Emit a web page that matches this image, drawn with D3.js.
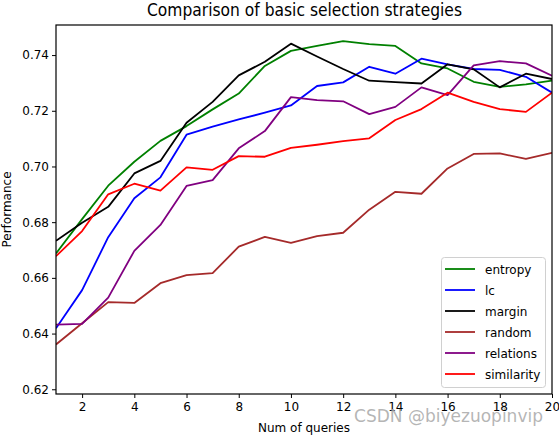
<!DOCTYPE html>
<html><head><meta charset="utf-8">
<script src="https://cdn.jsdelivr.net/npm/d3@7"></script>
<style>body{margin:0;background:#fff}svg{display:block}text{font-family:"DejaVu Sans",sans-serif}</style>
</head><body><svg id="c" width="559" height="437"></svg>
<script>
const queries = d3.range(1, 21);
const entropy    = [0.6688,0.6811,0.6931,0.7017,0.7092,0.7145,0.7205,0.7262,0.7361,0.7415,0.7433,0.7450,0.7439,0.7433,0.7370,0.7352,0.7304,0.7286,0.7295,0.7308];
const lc         = [0.6419,0.6556,0.6746,0.6886,0.6961,0.7114,0.7143,0.7169,0.7193,0.7219,0.7289,0.7302,0.7358,0.7333,0.7387,0.7367,0.7350,0.7347,0.7322,0.7265];
const margin     = [0.6733,0.6798,0.6855,0.6975,0.7020,0.7157,0.7232,0.7327,0.7376,0.7441,0.7395,0.7350,0.7308,0.7303,0.7298,0.7367,0.7349,0.7284,0.7333,0.7314];
const random     = [0.6361,0.6437,0.6513,0.6510,0.6581,0.6610,0.6617,0.6712,0.6747,0.6726,0.6750,0.6762,0.6845,0.6909,0.6902,0.6993,0.7045,0.7047,0.7027,0.7049];
const relations  = [0.6432,0.6435,0.6529,0.6697,0.6790,0.6930,0.6951,0.7065,0.7127,0.7249,0.7238,0.7234,0.7188,0.7214,0.7284,0.7256,0.7363,0.7378,0.7370,0.7326];
const similarity = [0.6678,0.6768,0.6900,0.6938,0.6913,0.6997,0.6988,0.7037,0.7035,0.7067,0.7078,0.7091,0.7101,0.7167,0.7206,0.7265,0.7232,0.7206,0.7196,0.7265];
const seriesNames = ["entropy","lc","margin","random","relations","similarity"];
const seriesColors = ["#008000","#0000ff","#000000","#a52a2a","#800080","#ff0000"];
const seriesData = [entropy, lc, margin, random, relations, similarity];
const xTicks = [2,4,6,8,10,12,14,16,18,20];
const yTicks = [0.62,0.64,0.66,0.68,0.70,0.72,0.74];

const L=56, R=552, T=25, B=394;
const svg = d3.select("#c");
const x = d3.scaleLinear().domain([1,20]).range([L,R]);
const y = d3.scaleLinear().domain([0.6183,0.7508]).range([B,T]);

const xa = svg.append("g").attr("transform",`translate(0,${B})`)
  .call(d3.axisBottom(x).tickValues(xTicks).tickSize(4).tickPadding(4).tickFormat(d3.format("d")));
const ya = svg.append("g").attr("transform",`translate(${L},0)`)
  .call(d3.axisLeft(y).tickValues(yTicks).tickSize(4).tickPadding(3).tickFormat(d3.format(".2f")));
[xa,ya].forEach(a=>{a.select(".domain").remove();a.selectAll("text").attr("font-size",12).attr("fill","#000").style("font-family","DejaVu Sans");a.selectAll("line").attr("stroke","#000");});

const line = d3.line().x((d,i)=>x(queries[i])).y(d=>y(d));
svg.append("clipPath").attr("id","cl").append("rect").attr("x",L).attr("y",T).attr("width",R-L).attr("height",B-T);
seriesData.forEach((s,k)=>{
  svg.append("path").datum(s).attr("d",line).attr("fill","none")
    .attr("stroke",seriesColors[k]).attr("stroke-width",1.8).attr("stroke-linejoin","round").attr("clip-path","url(#cl)");
});
svg.append("rect").attr("x",L).attr("y",T).attr("width",R-L).attr("height",B-T)
  .attr("fill","none").attr("stroke","#000").attr("stroke-width",1.2);

// legend
const lg = svg.append("g");
lg.append("rect").attr("x",441.5).attr("y",257.5).attr("width",104).attr("height",130).attr("rx",3)
  .attr("fill","#fff").attr("fill-opacity",0.8).attr("stroke","#d0d0d0");
seriesNames.forEach((n,k)=>{
  const yy = 269 + k*21;
  lg.append("line").attr("x1",445).attr("x2",475).attr("y1",yy).attr("y2",yy).attr("stroke",seriesColors[k]).attr("stroke-width",1.8);
  lg.append("text").attr("x",485).attr("y",yy+4.5).attr("font-size",12).text(n);
});

svg.append("text").attr("x",147).attr("y",16).attr("font-size",18)
  .attr("textLength",315).attr("lengthAdjust","spacingAndGlyphs").text("Comparison of basic selection strategies");
svg.append("text").attr("x",(L+R)/2).attr("y",432).attr("text-anchor","middle").attr("font-size",12).text("Num of queries");
svg.append("text").attr("transform",`translate(11,${(T+B)/2}) rotate(-90)`).attr("text-anchor","middle").attr("font-size",12).text("Performance");
svg.append("text").attr("x",354).attr("y",422).attr("font-size",17).attr("fill","#a8a8a8").attr("fill-opacity",0.85)
  .attr("textLength",189).attr("lengthAdjust","spacingAndGlyphs").text("CSDN @biyezuopinvip");
</script></body></html>
